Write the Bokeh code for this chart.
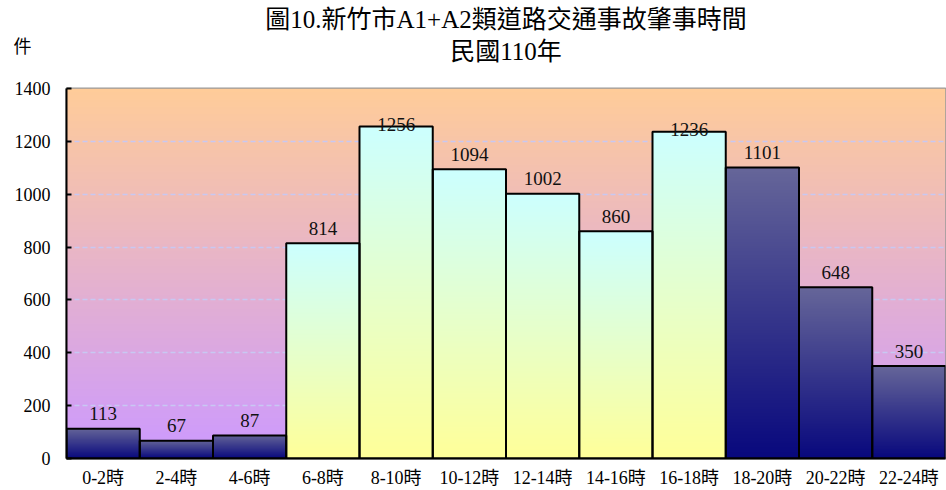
import numpy as np
from bokeh.plotting import figure
from bokeh.models import ColumnDataSource, Range1d, FixedTicker, Label
from bokeh.embed import file_html
from bokeh.resources import INLINE

# --- data -------------------------------------------------------------
hours = ["0-2時", "2-4時", "4-6時", "6-8時", "8-10時", "10-12時",
         "12-14時", "14-16時", "16-18時", "18-20時", "20-22時", "22-24時"]
counts = [113, 67, 87, 814, 1256, 1094, 1002, 860, 1236, 1101, 648, 350]
daytime = [False, False, False, True, True, True, True, True, True, False, False, False]
y_ticks = [0, 200, 400, 600, 800, 1000, 1200, 1400]

title_line1 = "圖10.新竹市A1+A2類道路交通事故肇事時間"
title_line2 = "民國110年"
unit_label = "件"

FONT = "'Liberation Serif', 'Noto Sans CJK TC'"
Y_MAX = 1400
W, H = 946, 490
LEFT, RIGHT, TOP, BOTTOM = 66, 1, 88, 32

# gradient end colours (top, bottom)
BG_TOP, BG_BOTTOM = (255, 204, 153), (204, 153, 255)
NIGHT_TOP, NIGHT_BOTTOM = (102, 102, 153), (8, 8, 125)
DAY_TOP, DAY_BOTTOM = (204, 255, 255), (255, 255, 153)


def gradient_image(c_top, c_bottom, rows=256, cols=2):
    """RGBA image whose first row (drawn at the bottom) is c_bottom."""
    t = np.linspace(0, 1, rows)[:, None]
    top = np.array(c_top, dtype=float)
    bot = np.array(c_bottom, dtype=float)
    rgb = np.rint(bot + (top - bot) * t).astype(np.uint32)
    packed = (255 << 24) | (rgb[:, 2] << 16) | (rgb[:, 1] << 8) | rgb[:, 0]
    return np.repeat(packed[:, None], cols, axis=1)


p = figure(width=W, height=H, output_backend="svg", toolbar_location=None,
           x_range=Range1d(0, len(hours)), y_range=Range1d(0, Y_MAX),
           min_border_left=LEFT, min_border_right=RIGHT, min_border_top=TOP,
           min_border_bottom=BOTTOM, background_fill_color="white",
           border_fill_color="white")
p.outline_line_color = "#999999"
p.outline_line_width = 2

# --- plot-area gradient ---------------------------------------------
p.image_rgba(image=[gradient_image(BG_TOP, BG_BOTTOM)], x=0, y=0,
             dw=len(hours), dh=Y_MAX, level="image")

# --- bars with vertical gradient -------------------------------------
day_img = gradient_image(DAY_TOP, DAY_BOTTOM)
night_img = gradient_image(NIGHT_TOP, NIGHT_BOTTOM)
p.image_rgba(image=[day_img if d else night_img for d in daytime],
             x=list(range(len(hours))), y=[0] * len(hours),
             dw=[1] * len(hours), dh=counts, level="glyph")

bars = ColumnDataSource(dict(
    left=list(range(len(hours))), right=[i + 1 for i in range(len(hours))],
    top=counts, x=[i + 0.5 for i in range(len(hours))],
    label=[str(v) for v in counts],
    gap=[-2 if v > 1200 else -15 for v in counts]))
p.quad(left="left", right="right", bottom=0, top="top", source=bars,
       fill_color=None, line_color="black", line_width=2)

p.text(x="x", y="top", text="label", source=bars, y_offset="gap",
       text_align="center", text_baseline="alphabetic",
       text_font={"value": FONT}, text_font_size="19px", text_color="#111111")

# --- grid -------------------------------------------------------------
p.xgrid.visible = False
p.ygrid.ticker = FixedTicker(ticks=y_ticks[1:-1])
p.ygrid.grid_line_color = "#c8c8f2"
p.ygrid.grid_line_dash = "5 3"
p.ygrid.grid_line_width = 1.5

# --- axes -------------------------------------------------------------
p.yaxis.ticker = FixedTicker(ticks=y_ticks)
p.yaxis.major_tick_in = 5
p.yaxis.major_tick_out = 0
p.yaxis.major_tick_line_width = 2
p.yaxis.minor_tick_line_color = None
p.yaxis.axis_line_width = 2
p.yaxis.major_label_standoff = 16
p.yaxis.major_label_text_font = FONT
p.yaxis.major_label_text_font_size = "18px"
p.yaxis.major_label_text_color = "black"

p.xaxis.ticker = FixedTicker(ticks=[i + 0.5 for i in range(len(hours))])
p.xaxis.major_label_overrides = {i + 0.5: h for i, h in enumerate(hours)}
p.xaxis.major_tick_line_color = None
p.xaxis.minor_tick_line_color = None
p.xaxis.axis_line_width = 2
p.xaxis.major_label_standoff = 3
p.xaxis.major_label_text_font = FONT
p.xaxis.major_label_text_font_size = "18px"
p.xaxis.major_label_text_color = "black"

# --- title lines and unit label (canvas coordinates, top panel) -------
frame_center = LEFT + (W - LEFT - RIGHT) / 2
p.add_layout(Label(x=frame_center, y=19, x_units="canvas", y_units="canvas",
                   text=title_line1, text_font=FONT, text_font_size="25px",
                   text_align="center", text_baseline="middle",
                   text_color="black"), "above")
p.add_layout(Label(x=frame_center, y=51, x_units="canvas", y_units="canvas",
                   text=title_line2, text_font=FONT, text_font_size="25px",
                   text_align="center", text_baseline="middle",
                   text_color="black"), "above")
p.add_layout(Label(x=22, y=46, x_units="canvas", y_units="canvas",
                   text=unit_label, text_font=FONT, text_font_size="18px",
                   text_align="center", text_baseline="middle",
                   text_color="black"), "above")

open("out.html", "w").write(file_html(p, INLINE))
